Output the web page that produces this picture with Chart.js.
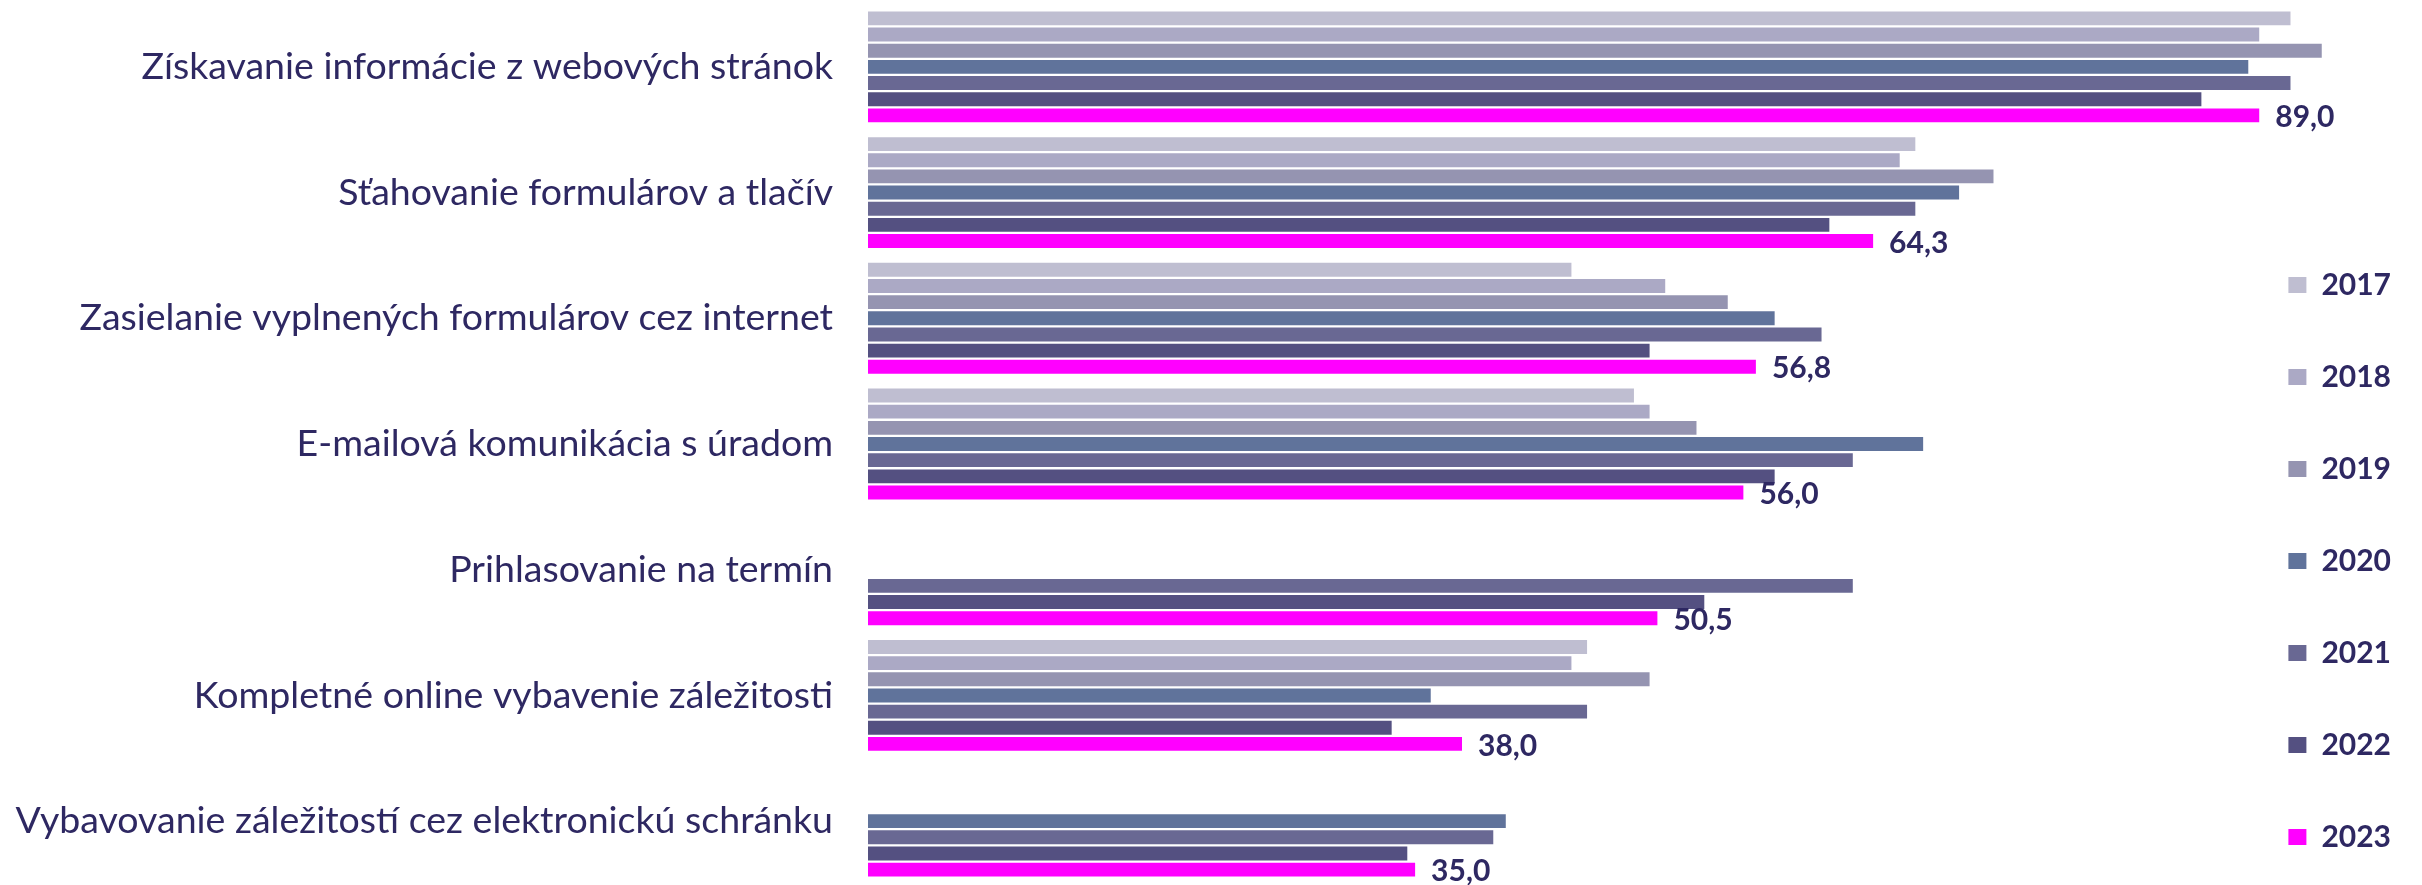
<!DOCTYPE html>
<html lang="sk">
<head>
<meta charset="utf-8">
<title>Využívanie elektronických služieb úradov</title>
<script src="https://cdn.jsdelivr.net/npm/chart.js@4.4.1/dist/chart.umd.min.js"></script>
<style>
	html, body { margin: 0; padding: 0; background: #ffffff; }
	#wrap { position: relative; width: 2422px; height: 885px; }
</style>
</head>
<body>
<div id="wrap"><canvas id="chart"></canvas></div>
<script>
const categories = [
	"Získavanie informácie z webových stránok",
	"Sťahovanie formulárov a tlačív",
	"Zasielanie vyplnených formulárov cez internet",
	"E-mailová komunikácia s úradom",
	"Prihlasovanie na termín",
	"Kompletné online vybavenie záležitosti",
	"Vybavovanie záležitostí cez elektronickú schránku",
];

const years = ["2017", "2018", "2019", "2020", "2021", "2022", "2023"];

const values2017 = [91.0, 67.0, 45.0, 49.0, null, 46.0, null];
const values2018 = [89.0, 66.0, 51.0, 50.0, null, 45.0, null];
const values2019 = [93.0, 72.0, 55.0, 53.0, null, 50.0, null];
const values2020 = [88.3, 69.8, 58.0, 67.5, null, 36.0, 40.8];
const values2021 = [91.0, 67.0, 61.0, 63.0, 63.0, 46.0, 40.0];
const values2022 = [85.3, 61.5, 50.0, 58.0, 53.5, 33.5, 34.5];
const values2023 = [89.0, 64.3, 56.8, 56.0, 50.5, 38.0, 35.0];

const colors = ["#bfbed1", "#aba9c5", "#9594b1", "#60739b", "#696893", "#545081", "#ff00ff"];
const textColor = "#2e2862";

const series = [values2017, values2018, values2019, values2020, values2021, values2022, values2023];

// numbers are printed only next to the newest year
const labelledYear = "2023";

const valueLabels = {
	id: "valueLabels",
	afterDatasetsDraw(chart) {
		const ctx = chart.ctx;
		chart.data.datasets.forEach((ds, i) => {
			if (ds.label !== labelledYear) return;
			const meta = chart.getDatasetMeta(i);
			ctx.save();
			ctx.font = "bold 30px Lato";
			ctx.fillStyle = textColor;
			ctx.textAlign = "left";
			ctx.textBaseline = "middle";
			meta.data.forEach((bar, j) => {
				const v = ds.data[j];
				if (v === null) return;
				ctx.fillText(v.toFixed(1).replace(".", ","), bar.x + 16, bar.y + 2);
			});
			ctx.restore();
		});
	},
};

// push the legend column down a little, it sits lower than the bottom-aligned default
const legendOffset = {
	id: "legendOffset",
	afterLayout(chart) {
		chart.legend.top += 30;
		chart.legend.bottom += 30;
	},
};

const config = {
	type: "bar",
	data: {
		labels: categories,
		datasets: years.map((y, i) => ({
			label: y,
			data: series[i],
			backgroundColor: colors[i],
			borderWidth: 0,
			categoryPercentage: 0.9,
			barPercentage: 0.86,
			clip: false,
		})),
	},
	options: {
		indexAxis: "y",
		responsive: true,
		maintainAspectRatio: false,
		animation: false,
		layout: {
			padding: { top: 4, right: 21, bottom: 1, left: 0 },
		},
		scales: {
			x: {
				display: false,
				min: 0,
				max: 86.9,
			},
			y: {
				grid: { display: false, drawTicks: false },
				border: { display: false },
				ticks: {
					color: textColor,
					font: { family: "Lato", size: 37.5 },
					padding: 35,
				},
				afterFit(scale) {
					// fixed label column, and no extra room above/below the bars
					scale.width = 868;
					scale.paddingTop = 0;
					scale.paddingBottom = 0;
				},
			},
		},
		plugins: {
			legend: {
				position: "right",
				align: "end",
				labels: {
					boxWidth: 18,
					boxHeight: 16,
					padding: 62,
					color: textColor,
					font: { family: "Lato", size: 30, weight: "bold" },
				},
			},
			tooltip: { enabled: false },
		},
	},
	plugins: [valueLabels, legendOffset],
};

const chart = new Chart(document.getElementById("chart"), config);
</script>
</body>
</html>
